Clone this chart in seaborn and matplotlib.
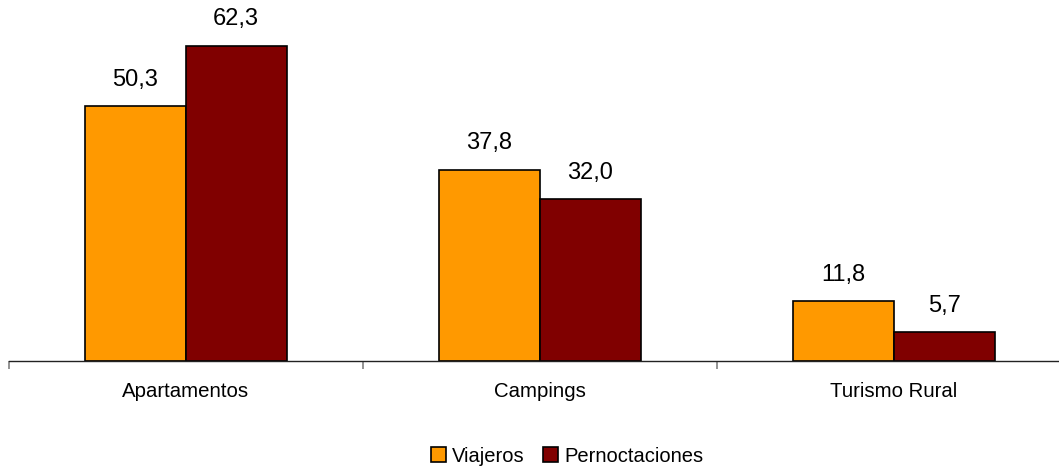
import pandas as pd
import matplotlib.pyplot as plt
import seaborn as sns
from matplotlib.ticker import FixedLocator

categorias = ['Apartamentos', 'Campings', 'Turismo Rural']
viajeros = [50.3, 37.8, 11.8]
pernoctaciones = [62.3, 32.0, 5.7]
series = ['Viajeros', 'Pernoctaciones']
colores = ['#FF9900', '#800000']

df = pd.DataFrame({
    'categoria': categorias * 2,
    'serie': [series[0]] * 3 + [series[1]] * 3,
    'valor': viajeros + pernoctaciones,
})

sns.set_style('white')
plt.rcParams['font.family'] = ['Liberation Sans', 'DejaVu Sans']
plt.rcParams['text.color'] = 'black'
plt.rcParams['xtick.color'] = '#808080'
plt.rcParams['xtick.labelcolor'] = 'black'

fig = plt.figure(figsize=(10.59, 4.68), dpi=100)
# the category axis runs a little past the right edge of the picture
ax = fig.add_axes([8.5 / 1059, 107 / 468, 1062.5 / 1059, 361 / 468])

sns.barplot(data=df, x='categoria', y='valor', hue='serie', palette=colores,
            width=0.57, edgecolor='black', linewidth=1.2, saturation=1, ax=ax)

for cont in ax.containers:
    ax.bar_label(cont, labels=[f'{v:.1f}'.replace('.', ',') for v in cont.datavalues],
                 padding=11, fontsize=17, color='black')

ax.set_ylim(0, 71.3)
ax.set_xlim(-0.5, 2.5)
ax.set_xlabel('')
ax.set_ylabel('')
ax.set_yticks([])
for s in ['top', 'right', 'left']:
    ax.spines[s].set_visible(False)
ax.spines['bottom'].set_color('#222222')
ax.spines['bottom'].set_linewidth(1)

ax.tick_params(axis='x', which='major', bottom=False, length=0, labelsize=14.7, pad=15)
ax.xaxis.set_minor_locator(FixedLocator([-0.5, 0.5, 1.5, 2.5]))
ax.tick_params(axis='x', which='minor', bottom=True, length=6, width=1.2,
               color='#808080', direction='out')

ax.legend(loc='center', bbox_to_anchor=(0.5, -(456 - 361) / 361), ncol=2, frameon=False,
          fontsize=14.5, handlelength=0.75, handleheight=0.75, handletextpad=0.3,
          columnspacing=0.9, borderpad=0)
leg = ax.get_legend()
leg.set_bbox_to_anchor((567 / 1059, 12 / 468), transform=fig.transFigure)
for h in leg.legend_handles:
    h.set_edgecolor('black')

fig.savefig('out.png', dpi=100)
